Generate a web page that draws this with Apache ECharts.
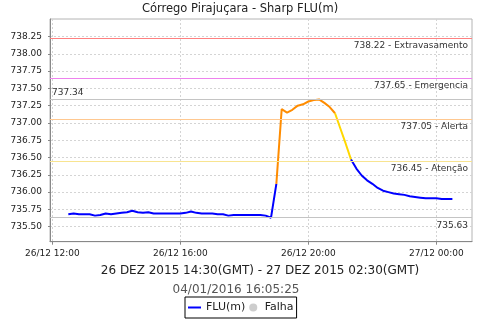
<!DOCTYPE html>
<html><head><meta charset="utf-8">
<script src="https://cdn.jsdelivr.net/npm/echarts@6/dist/echarts.min.js"></script>
<style>html,body{margin:0;padding:0;background:#fff}#c{width:480px;height:320px}</style>
</head><body><div id="c"></div>
<script>
// ---- data ----
const startHour = 12.5;          // 26/12 12:30 (local), samples every 10 minutes
const stepHour = 1 / 6;
const levels = [
  735.68,735.69,735.68,735.68,735.68,735.66,735.67,735.69,735.68,735.69,
  735.70,735.71,735.73,735.71,735.70,735.71,735.69,735.69,735.69,735.69,
  735.69,735.69,735.70,735.72,735.70,735.69,735.69,735.69,735.68,735.68,
  735.66,735.67,735.67,735.67,735.67,735.67,735.67,735.66,735.63,736.12,
  737.20,737.15,737.19,737.25,737.27,737.31,737.33,737.34,737.29,737.23,
  737.14,736.92,736.70,736.47,736.34,736.24,736.17,736.12,736.06,736.02,
  736.00,735.98,735.97,735.96,735.94,735.93,735.92,735.91,735.91,735.91,
  735.90,735.90,735.90
];
const yTicks = [735.5,735.75,736.0,736.25,736.5,736.75,737.0,737.25,737.5,737.75,738.0,738.25];
const xTickHours = [12,16,20,24];
const xTickLabels = ['26/12 12:00','26/12 16:00','26/12 20:00','27/12 00:00'];
const thresholdValues = [738.22, 737.65, 737.34, 737.05, 736.45, 735.63];
const thresholdLabels = ['738.22 - Extravasamento','737.65 - Emergencia','737.34','737.05 - Alerta','736.45 - Atenção','735.63'];
const alertLevel = 737.05, attentionLevel = 736.45;

// ---- styles ----
const FONT = 'DejaVu Sans';
const thresholdColors = ['#ff8080','#ee82ee','#c4c4c4','#ffc890','#f8e490','#c4c4c4'];
const lineColors = {normal:'#0000ff', alert:'#ff8c00', attention:'#ffd800'};

const pts = levels.map((v,i)=>[startHour + i*stepHour, v]);
function cls(v){ return v >= alertLevel ? 'alert' : (v >= attentionLevel ? 'attention' : 'normal'); }

// split into runs of equal segment colour (segment coloured by its end point)
const runs = [];
for (let i = 1; i < pts.length; i++) {
  const c = cls(levels[i]);
  const last = runs[runs.length-1];
  if (last && last.c === c) last.pts.push(pts[i]);
  else runs.push({c, pts:[pts[i-1], pts[i]]});
}

const markData = thresholdValues.map((v,i)=>{
  const isMax = thresholdLabels[i] === '737.34';
  return {
    yAxis: v,
    lineStyle:{color: thresholdColors[i], width:1, type:'solid'},
    label:{
      show:true, formatter: thresholdLabels[i],
      position: isMax ? 'insideStartTop' : 'insideEndBottom',
      distance: isMax ? [2,2] : [4,3],
      fontFamily: FONT, fontSize: 9, color:'#333'
    }
  };
});

const series = runs.map((r,k)=>({
  type:'line', name: r.c === 'normal' ? 'FLU(m)' : 'FLU(m) ' + r.c,
  data: r.pts, showSymbol:false, symbol:'none', animation:false,
  color: lineColors[r.c],
  lineStyle:{color: lineColors[r.c], width:2},
  z: 3,
  markLine: k === 0 ? {silent:true, symbol:'none', animation:false, data: markData} : undefined
}));
series.push({type:'scatter', name:'Falha', data:[], color:'#c0c0c0', itemStyle:{color:'#c0c0c0'}});

const chart = echarts.init(document.getElementById('c'), null, {renderer:'canvas'});
chart.setOption({
  backgroundColor:'#fff',
  animation:false,
  title:[
    {text:'Córrego Pirajuçara - Sharp FLU(m)', left:240, textAlign:'center', top:3, padding:0,
     textStyle:{fontFamily:FONT, fontSize:11.5, fontWeight:'normal', color:'#222'}},
    {text:'26 DEZ 2015 14:30(GMT) - 27 DEZ 2015 02:30(GMT)', left:260, textAlign:'center', top:265, padding:0,
     textStyle:{fontFamily:FONT, fontSize:12, fontWeight:'normal', color:'#222'}},
    {text:'04/01/2016 16:05:25', left:236, textAlign:'center', top:284, padding:0,
     textStyle:{fontFamily:FONT, fontSize:12, fontWeight:'normal', color:'#555'}}
  ],
  legend:{
    left:185, top:297, orient:'horizontal',
    padding:[3,3,3,3], itemGap:4, itemWidth:13, itemHeight:8,
    borderColor:'#000', borderWidth:1, backgroundColor:'#fff',
    itemStyle:{borderWidth:0},
    textStyle:{fontFamily:FONT, fontSize:11, color:'#222', lineHeight:15},
    data:[{name:'FLU(m)', icon:'path://M0,0H13V2H0Z', itemStyle:{color:'#0000ff'}},
          {name:'Falha', icon:'circle', itemStyle:{color:'#c0c0c0'}}],
    selectedMode:false
  },
  grid:{left:50, right:8, top:19, bottom:78.3, show:true, borderColor:'#b4b4b4', borderWidth:1, backgroundColor:'#fff'},
  xAxis:{
    type:'value', min:11.928, max:25.1125,
    axisLine:{show:true, lineStyle:{color:'#888', width:1}},
    axisTick:{show:true, length:3, customValues:xTickHours, lineStyle:{color:'#888'}},
    axisLabel:{customValues:xTickHours, margin:7, fontFamily:FONT, fontSize:9, color:'#222',
      formatter:(v)=>{const i=xTickHours.indexOf(Math.round(v)); return i>=0?xTickLabels[i]:'';}},
    splitLine:{show:true, lineStyle:{color:'#d4d4d4', type:[2,2], width:1}}
  },
  yAxis:{
    type:'value', min:735.283, max:738.503,
    axisLine:{show:true, lineStyle:{color:'#888', width:1}},
    axisTick:{show:true, length:2, customValues:yTicks, lineStyle:{color:'#888'}},
    axisLabel:{customValues:yTicks, margin:8, fontFamily:FONT, fontSize:9, color:'#222',
      formatter:(v)=>v.toFixed(2)},
    splitLine:{show:true, lineStyle:{color:'#d4d4d4', type:[2,2], width:1}}
  },
  series
});
</script></body></html>
